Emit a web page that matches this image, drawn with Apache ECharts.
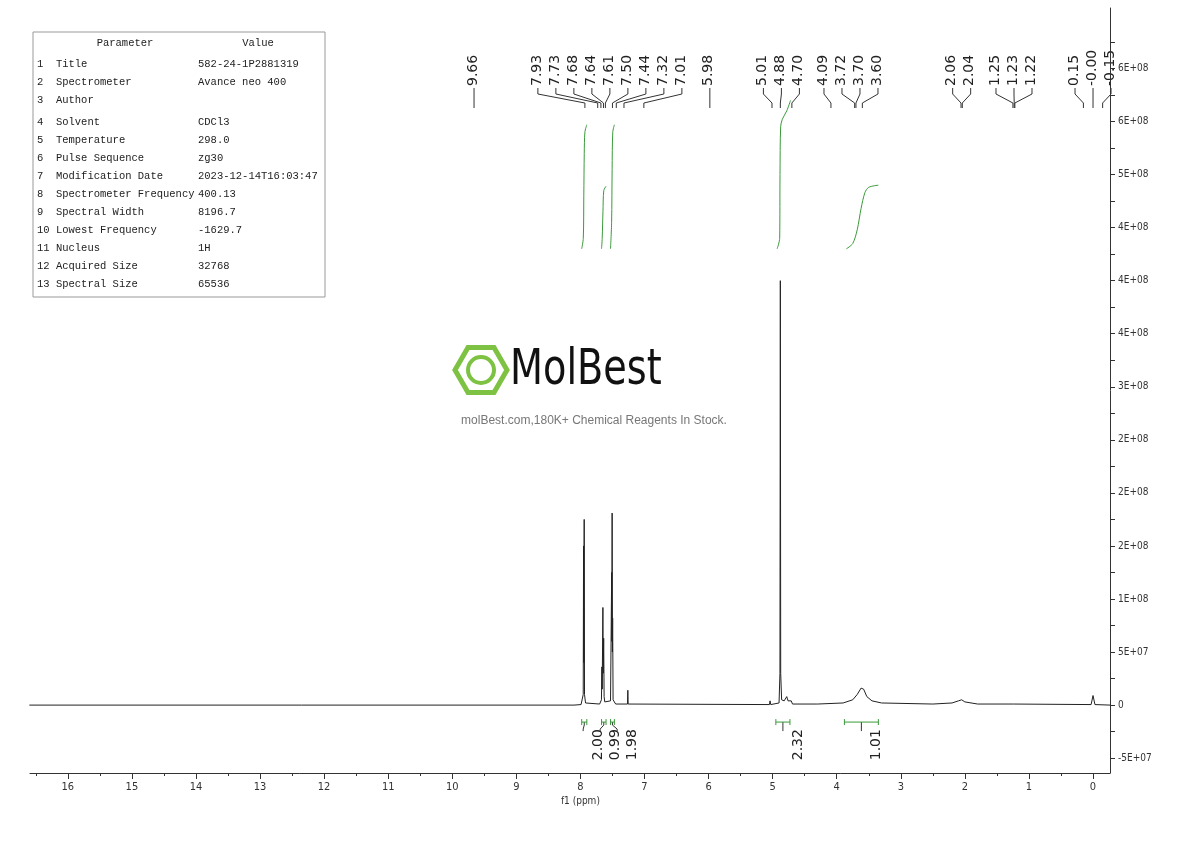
<!DOCTYPE html>
<html><head><meta charset="utf-8">
<script src="https://cdn.jsdelivr.net/npm/echarts@6/dist/echarts.min.js"></script>
<style>html,body{margin:0;background:#fff}#c{width:1190px;height:841px}</style>
</head><body><div id="c"></div>
<script>
// ---- data ----
const spectrum = [[16.6,0],[8.1,0],[7.99,0.5e6],[7.97,2e6],[7.956,10e6],[7.951,150e6],[7.946,40e6],[7.941,175e6],[7.936,10e6],[7.92,2e6],[7.70,1e6],[7.672,5e6],[7.665,36e6],[7.660,15e6],[7.649,92e6],[7.644,30e6],[7.637,63e6],[7.630,8e6],[7.62,3e6],[7.53,4e6],[7.512,125e6],[7.509,60e6],[7.505,181e6],[7.501,50e6],[7.497,82e6],[7.49,5e6],[7.45,1e6],[7.265,1e6],[7.26,14e6],[7.255,1e6],[5.05,0.5e6],[5.04,4e6],[5.03,0.5e6],[4.90,2e6],[4.886,30e6],[4.88,400e6],[4.874,30e6],[4.86,5e6],[4.82,4e6],[4.78,8e6],[4.76,4e6],[4.73,3e6],[4.71,4e6],[4.69,1e6],[4.3,1e6],[3.9,2e6],[3.75,5e6],[3.68,10e6],[3.62,16e6],[3.58,15e6],[3.53,8e6],[3.45,4e6],[3.3,2e6],[2.5,1e6],[2.2,2e6],[2.1,4e6],[2.05,5e6],[2.0,3e6],[1.8,1e6],[1.24,1e6],[0.03,0.5e6],[0.0,9e6],[-0.03,0.5e6],[-0.27,0]];
const integralCurves = [
  [[7.98,430e6],[7.955,440e6],[7.947,480e6],[7.94,520e6],[7.93,540e6],[7.90,547e6]],
  [[7.67,430e6],[7.66,440e6],[7.648,465e6],[7.635,485e6],[7.60,489e6]],
  [[7.53,430e6],[7.513,455e6],[7.505,505e6],[7.495,540e6],[7.47,547e6]],
  [[4.93,430e6],[4.89,440e6],[4.885,500e6],[4.875,545e6],[4.85,552e6],[4.78,560e6],[4.72,570e6]],
  [[3.85,430e6],[3.75,435e6],[3.68,448e6],[3.62,468e6],[3.56,483e6],[3.5,488e6],[3.35,490e6]]
];
const integralRanges = [[7.98,7.90],[7.67,7.60],[7.53,7.47],[4.95,4.73],[3.88,3.35]];
const integralValues = ['2.00','0.99','1.98','2.32','1.01'];
const peakLabels = [9.66,7.93,7.73,7.68,7.64,7.61,7.50,7.44,7.32,7.01,5.98,5.01,4.88,4.70,4.09,3.72,3.70,3.60,2.06,2.04,1.25,1.23,1.22,0.15,-0.00,-0.15];
const peakLabelText = ['9.66','7.93','7.73','7.68','7.64','7.61','7.50','7.44','7.32','7.01','5.98','5.01','4.88','4.70','4.09','3.72','3.70','3.60','2.06','2.04','1.25','1.23','1.22','0.15','-0.00','-0.15'];
const xTicks = [0,1,2,3,4,5,6,7,8,9,10,11,12,13,14,15,16];
const xMinorTicks = [0.5,1.5,2.5,3.5,4.5,5.5,6.5,7.5,8.5,9.5,10.5,11.5,12.5,13.5,14.5,15.5,16.5];
const yLabels = [-5e7,0,5e7,1e8,1.5e8,2e8,2.5e8,3e8,3.5e8,4e8,4.5e8,5e8,5.5e8,6e8];
const yTicks = [-5e7,-2.5e7,0,2.5e7,5e7,7.5e7,1e8,1.25e8,1.5e8,1.75e8,2e8,2.25e8,2.5e8,2.75e8,3e8,3.25e8,3.5e8,3.75e8,4e8,4.25e8,4.5e8,4.75e8,5e8,5.25e8,5.5e8,5.75e8,6e8,6.25e8];
const paramNames = ['Title','Spectrometer','Author','Solvent','Temperature','Pulse Sequence','Modification Date','Spectrometer Frequency','Spectral Width','Lowest Frequency','Nucleus','Acquired Size','Spectral Size'];
const paramValues = ['582-24-1P2881319','Avance neo 400','','CDCl3','298.0','zg30','2023-12-14T16:03:47','400.13','8196.7','-1629.7','1H','32768','65536'];

const cond = '"DejaVu Sans Condensed","DejaVu Sans",sans-serif';
function sci(v){
  if(v===0) return '0';
  const s=v<0?'-':''; let a=Math.abs(v); let e=Math.floor(Math.log10(a)+1e-9); let m=a/Math.pow(10,e);
  let f=Math.floor(m), d=m-f; let r;
  if(Math.abs(d-0.5)<1e-9) r=(f%2===0)?f:f+1; else r=Math.round(m);
  if(r>=10){r=1;e++;}
  return s+r+'E+'+(e<10?'0':'')+e;
}
const chart = echarts.init(document.getElementById('c'));
const green = '#3a9a3a';
const series = [{type:'line',xAxisIndex:0,data:spectrum,showSymbol:false,lineStyle:{color:'#222',width:1},animation:false,z:3}];
integralCurves.forEach(c=>series.push({type:'line',xAxisIndex:0,data:c,showSymbol:false,smooth:0.3,lineStyle:{color:green,width:1},animation:false}));
integralRanges.forEach(r=>series.push({type:'line',xAxisIndex:0,data:[[r[0],-16e6],[r[1],-16e6]],showSymbol:false,lineStyle:{color:green,width:1},animation:false}));
chart.setOption({
  animation:false,
  grid:{left:30,right:80,top:8,bottom:68},
  xAxis:[{type:'value',min:-0.265,max:16.59,inverse:true,position:'bottom',
    axisLine:{onZero:false,lineStyle:{color:'#333'}},splitLine:{show:false},
    axisTick:{inside:false,customValues:xTicks,length:6,lineStyle:{color:'#333'}},
    axisLabel:{customValues:xTicks,color:'#333',fontFamily:cond,fontSize:11,margin:9}},
   {type:'value',min:-0.265,max:16.59,inverse:true,position:'bottom',
    axisLine:{show:false,onZero:false},splitLine:{show:false},axisLabel:{show:false},
    axisTick:{inside:false,customValues:xMinorTicks,length:3,lineStyle:{color:'#333'}}}],
  yAxis:{type:'value',min:-6.4e7,max:6.57e8,position:'right',
    axisLine:{show:true,onZero:false,lineStyle:{color:'#333'}},splitLine:{show:false},
    axisTick:{inside:false,customValues:yTicks,length:5,lineStyle:{color:'#333'}},
    axisLabel:{inside:false,customValues:yLabels,formatter:sci,color:'#333',fontFamily:cond,fontSize:10,margin:8}},
  series
});
const px=v=>chart.convertToPixel({xAxisIndex:0},v);
const py=v=>chart.convertToPixel({yAxisIndex:0},v);
function spread(targets,gap){
  let groups=targets.map((t,i)=>({idx:[i],c:t}));
  let changed=true;
  while(changed){changed=false;
    for(let i=0;i<groups.length-1;i++){
      const a=groups[i],b=groups[i+1];
      const aR=a.c+(a.idx.length-1)*gap/2, bL=b.c-(b.idx.length-1)*gap/2;
      if(bL-aR<gap){const idx=a.idx.concat(b.idx);
        const c=idx.reduce((s,k)=>s+targets[k],0)/idx.length;
        groups.splice(i,2,{idx,c});changed=true;break;}
    }}
  const out=[];groups.forEach(g=>g.idx.forEach((k,j)=>out[k]=g.c-(g.idx.length-1)*gap/2+j*gap));
  return out;
}
const g=[];
const tgt=peakLabels.map(px);
const lx=spread(tgt,18);
peakLabels.forEach((p,i)=>{
  g.push({type:'text',x:lx[i]-8,y:86,rotation:Math.PI/2,style:{text:peakLabelText[i],font:'14px "DejaVu Sans",sans-serif',fill:'#222',textAlign:'left',textVerticalAlign:'top'}});
  g.push({type:'polyline',shape:{points:[[lx[i],88],[lx[i],94],[tgt[i],103],[tgt[i],108]]},style:{stroke:'#333',lineWidth:1,fill:null}});
});
const ic=integralRanges.map(r=>(px(r[0])+px(r[1]))/2);
const il=spread(ic,17);
const by=py(-16e6);
integralRanges.forEach((r,i)=>{
  [r[0],r[1]].forEach(v=>g.push({type:'line',shape:{x1:px(v),y1:by-3,x2:px(v),y2:by+3},style:{stroke:green,lineWidth:1}}));
  g.push({type:'polyline',shape:{points:[[ic[i],by],[ic[i],by+3],[il[i],by+7],[il[i],by+9]]},style:{stroke:'#333',lineWidth:1,fill:null}});
  g.push({type:'text',x:il[i]+8,y:by+7,rotation:Math.PI/2,style:{text:integralValues[i],font:'14px "DejaVu Sans",sans-serif',fill:'#222',textAlign:'right',textVerticalAlign:'top'}});
});
g.push({type:'text',x:px(8),y:796,style:{text:'f1 (ppm)',font:'10px '+cond,fill:'#333',textAlign:'center'}});
g.push({type:'rect',shape:{x:33,y:32,width:292,height:265},style:{fill:'none',stroke:'#999',lineWidth:1}});
const mono='10.5px "Liberation Mono",monospace';
g.push({type:'text',x:125,y:38,style:{text:'Parameter',font:mono,fill:'#222',textAlign:'center'}});
g.push({type:'text',x:258,y:38,style:{text:'Value',font:mono,fill:'#222',textAlign:'center'}});
paramNames.forEach((n,i)=>{
  const y=59+i*18+(i>=3?4:0);
  g.push({type:'text',x:37,y,style:{text:String(i+1).padEnd(3,' ')+n,font:mono,fill:'#222'}});
  g.push({type:'text',x:198,y,style:{text:paramValues[i],font:mono,fill:'#222'}});
});
const hx=481,hy=370,R=26;
const hex=[];for(let k=0;k<6;k++){const a=Math.PI/3*k;hex.push([hx+R*Math.cos(a),hy+R*Math.sin(a)]);}
g.push({type:'polygon',shape:{points:hex},style:{fill:'none',stroke:'#7dc242',lineWidth:5}});
g.push({type:'circle',shape:{cx:hx,cy:hy,r:13},style:{fill:'none',stroke:'#7dc242',lineWidth:4}});
g.push({type:'text',x:510,y:346,scaleX:0.85,style:{text:'MolBest',font:'50px "DejaVu Sans Condensed",sans-serif',fill:'#111'}});
g.push({type:'text',x:594,y:415,style:{text:'molBest.com,180K+ Chemical Reagents In Stock.',font:'12px "Liberation Sans",Arial,sans-serif',fill:'#777',textAlign:'center'}});
chart.setOption({graphic:g});
</script></body></html>
